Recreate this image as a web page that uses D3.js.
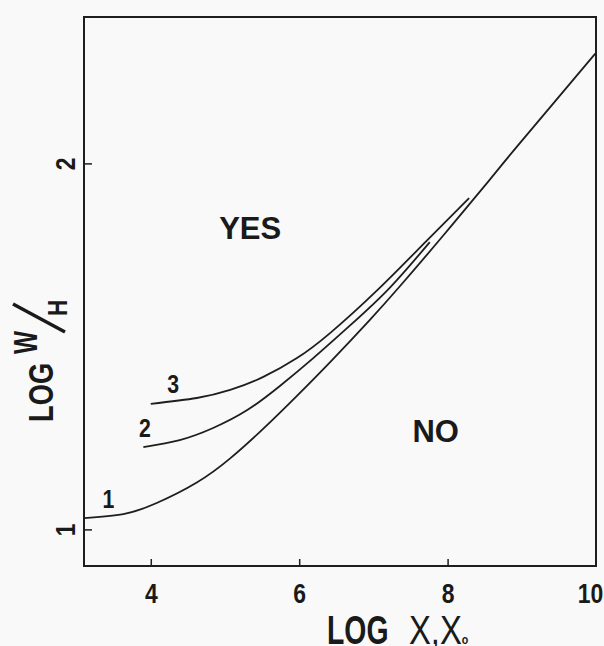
<!DOCTYPE html>
<html>
<head>
<meta charset="utf-8">
<script src="https://cdn.jsdelivr.net/npm/d3@7"></script>
<style>
  html, body { margin: 0; padding: 0; background: #f8f9f8; }
  svg { display: block; }
  text { font-family: "Liberation Sans", Arial, sans-serif; fill: #1a1a1a; }
</style>
</head>
<body>
<div id="chart"></div>
<script>
// curve 1 (long one, up to the top right corner)
var curve1X = [3.10, 3.63, 4.08, 4.62, 5.07, 5.51, 5.97, 6.44, 6.95, 7.36, 7.95, 8.55, 8.94, 9.99];
var curve1Y = [1.031, 1.042, 1.072, 1.128, 1.194, 1.274, 1.365, 1.462, 1.572, 1.665, 1.805, 1.951, 2.047, 2.300];
// curve 2
var curve2X = [3.90, 4.39, 4.84, 5.30, 5.74, 6.19, 6.69, 7.22, 7.76];
var curve2Y = [1.225, 1.244, 1.277, 1.326, 1.392, 1.468, 1.558, 1.660, 1.785];
// curve 3
var curve3X = [4.00, 4.62, 5.07, 5.51, 5.97, 6.42, 7.06, 7.70, 8.29];
var curve3Y = [1.343, 1.359, 1.381, 1.416, 1.468, 1.537, 1.655, 1.785, 1.905];

var curveNames = ["1", "2", "3"];
var curveLabelX = [3.43, 3.92, 4.30];
var curveLabelY = [1.058, 1.252, 1.373];

var regionNames = ["YES", "NO"];
var regionX = [5.34, 7.84];
var regionY = [1.793, 1.239];

var xTicks = [4, 6, 8, 10];
var yTicks = [1, 2];

(function () {
    var width = 604, height = 646;
    var mLeft = 84, mRight = 596, mTop = 17, mBottom = 566;

    var svg = d3.select('#chart').append('svg')
        .attr('width', width)
        .attr('height', height);

    var x = d3.scaleLinear().domain([3.1, 10]).range([mLeft, mRight]);
    var y = d3.scaleLinear().domain([0.9, 2.4]).range([mBottom, mTop]);

    // frame
    svg.append('rect')
        .attr('x', mLeft).attr('y', mTop)
        .attr('width', mRight - mLeft).attr('height', mBottom - mTop)
        .attr('fill', 'none')
        .attr('stroke', '#1e1e1e')
        .attr('stroke-width', 2);

    // x axis, ticks pointing inwards
    var xAxis = svg.append('g')
        .attr('transform', 'translate(0,' + mBottom + ')')
        .call(d3.axisBottom(x).tickValues(xTicks).tickFormat(d3.format('d'))
            .tickSize(-7).tickSizeOuter(0));
    xAxis.select('.domain').remove();
    xAxis.selectAll('line').attr('stroke', '#1e1e1e').attr('stroke-width', 1.5);
    xAxis.selectAll('text')
        .attr('y', 37).attr('dy', null)
        .attr('transform', 'scale(0.85,1)')
        .style('font-size', '27px').style('font-weight', 'bold');
    var last = xAxis.selectAll('.tick').filter(function (d) { return d === 10; });
    last.select('line').remove();
    last.select('text').attr('x', -7);

    // y axis, rotated labels
    var yAxis = svg.append('g')
        .attr('transform', 'translate(' + mLeft + ',0)')
        .call(d3.axisLeft(y).tickValues(yTicks).tickFormat(d3.format('d'))
            .tickSize(-8).tickSizeOuter(0));
    yAxis.select('.domain').remove();
    yAxis.selectAll('line').attr('stroke', '#1e1e1e').attr('stroke-width', 1.5);
    yAxis.selectAll('text')
        .attr('x', null).attr('dy', null)
        .attr('text-anchor', 'middle')
        .attr('transform', 'translate(-9,0) rotate(-90) scale(0.85,1)')
        .style('font-size', '27px').style('font-weight', 'bold');

    // curves
    var line = d3.line()
        .x(function (d) { return x(d[0]); })
        .y(function (d) { return y(d[1]); })
        .curve(d3.curveNatural);

    var curves = [
        d3.zip(curve1X, curve1Y),
        d3.zip(curve2X, curve2Y),
        d3.zip(curve3X, curve3Y)
    ];

    svg.selectAll('.curve')
        .data(curves)
        .enter()
        .append('path')
        .attr('class', 'curve')
        .attr('d', line)
        .attr('fill', 'none')
        .attr('stroke', '#1e1e1e')
        .attr('stroke-width', 1.8);

    // curve numbers
    svg.selectAll('.cname')
        .data(curveNames)
        .enter()
        .append('text')
        .attr('class', 'cname')
        .attr('text-anchor', 'middle')
        .attr('transform', function (d, i) {
            return 'translate(' + x(curveLabelX[i]) + ',' + y(curveLabelY[i]) + ') scale(0.85,1)';
        })
        .style('font-size', '25px').style('font-weight', 'bold')
        .text(function (d) { return d; });

    // YES / NO
    svg.selectAll('.region')
        .data(regionNames)
        .enter()
        .append('text')
        .attr('class', 'region')
        .attr('text-anchor', 'middle')
        .attr('x', function (d, i) { return x(regionX[i]); })
        .attr('y', function (d, i) { return y(regionY[i]); })
        .style('font-size', '31px').style('font-weight', 'bold')
        .text(function (d) { return d; });

    // x title: LOG X,X0
    var xt = svg.append('g').attr('transform', 'translate(327,644)');
    xt.append('text')
        .attr('transform', 'scale(0.71,1)')
        .style('font-size', '40px').style('font-weight', 'bold')
        .text('LOG');
    var chi = xt.append('text')
        .attr('x', 100)
        .attr('transform', 'scale(0.82,1)')
        .style('font-size', '40px').style('font-weight', 'normal');
    chi.append('tspan').text('Χ,Χ');
    chi.append('tspan').style('font-size', '13px').style('font-weight', 'bold').text('o');

    // y title: LOG W/H, rotated
    var yt = svg.append('g').attr('transform', 'translate(53,422) rotate(-90)');
    yt.append('text')
        .attr('transform', 'scale(0.78,1)')
        .style('font-size', '35px').style('font-weight', 'bold')
        .text('LOG');
    yt.append('text')
        .attr('transform', 'translate(68,-16) scale(0.74,1)')
        .style('font-size', '33px').style('font-weight', 'bold')
        .text('W');
    yt.append('line')
        .attr('x1', 90).attr('y1', 12)
        .attr('x2', 118).attr('y2', -40)
        .attr('stroke', '#1a1a1a').attr('stroke-width', 3.5);
    yt.append('text')
        .attr('transform', 'translate(106,14) scale(0.8,1)')
        .style('font-size', '28px').style('font-weight', 'bold')
        .text('H');
})();
</script>
</body>
</html>
